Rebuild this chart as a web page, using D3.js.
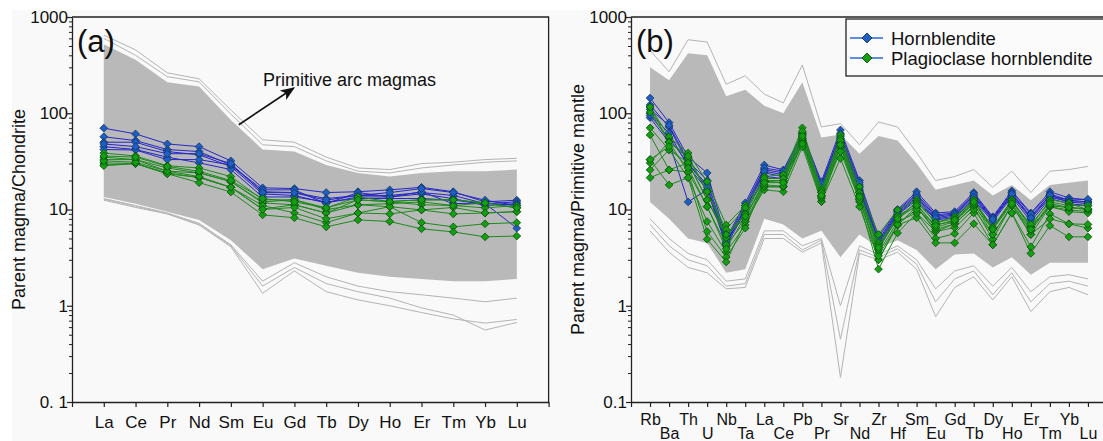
<!DOCTYPE html>
<html><head><meta charset="utf-8">
<script src="https://cdn.jsdelivr.net/npm/d3@7"></script>
<style>
html,body{margin:0;padding:0;background:#fff;}
svg text{font-family:Arial,"Liberation Sans",sans-serif;fill:#111;}
</style></head>
<body><svg id="c" width="1103" height="441"></svg>
<script>
// ---------- categories ----------
const reeCats = ["La","Ce","Pr","Nd","Sm","Eu","Gd","Tb","Dy","Ho","Er","Tm","Yb","Lu"];
const spiderCats = ["Rb","Ba","Th","U","Nb","Ta","La","Ce","Pb","Pr","Sr","Nd","Zr","Hf","Sm","Eu","Gd","Tb","Dy","Ho","Er","Tm","Yb","Lu"];
const yTicks = [0.1, 1, 10, 100, 1000];
const yTickLabelsA = ["0. 1","1","10","100","1000"];
const yTickLabelsB = ["0.1","1","10","100","1000"];
const seriesNames = ["Hornblendite","Plagioclase hornblendite"];

// ---------- primitive arc magmas (grey field), panel a ----------
const arcHiA   = [650,455,263,228,108,53,50,35,27,26,30,31,33,34];
const arcHi2A  = [600,400,240,212,98,47,45,32,25,24,27,29,31,32];
const coreHiA  = [520,360,210,190,85,42,40,29,24,22,24,25,25,26];
const coreLoA  = [13.5,11.5,9.5,7.8,4.8,2.4,3.1,2.6,2.2,2.0,1.9,1.8,1.8,1.9];
const arcMidLoA= [13,11,9.2,7.2,4.3,1.8,2.8,2.0,1.6,1.4,1.3,1.2,1.1,1.2];
const arcLo2A  = [12.8,10.8,9,7,4.2,1.6,2.5,1.7,1.4,1.2,0.95,0.8,0.56,0.67];
const arcLoA   = [12.5,10.5,9,6.9,4.1,1.35,2.3,1.4,1.15,1.0,0.85,0.73,0.66,0.72];

// ---------- hornblendite (panel a, chondrite normalised) ----------
const hbA1 = [70,61,48,45,32,16.8,16.5,15,15.3,16,17,15.3,12,12.5];
const hbA2 = [57,52,42,40,29,15.3,15,13,14,14,15,14,11.5,12];
const hbA3 = [50,50,40,37,28,14.5,14,11.7,13.5,13.5,14.5,13,11,11.5];
const hbA4 = [45,42,35,30.5,26,13.5,13.5,12,13,13,13,12.5,11.5,6.4];
const hbA5 = [42,41.5,33,33,29,16,16,11.5,15,13.5,15.3,11.5,11.7,11];
const hbA6 = [48,45,38,38,30,15,14.9,12.5,14,15,16.5,15,12.5,11];
// ---------- plagioclase hornblendite (panel a) ----------
const phA1 = [38.6,36,28.5,27,22,12.6,12.6,10.4,13.5,12.1,12.6,12.6,11.7,10.4];
const phA2 = [35,33,27,24,19.5,11.7,11.2,9.2,12.6,12,11.2,11,10.4,11];
const phA3 = [33,33,25,24,19.5,12,12.6,10,11.2,10.7,9.9,10.5,9.2,9.5];
const phA4 = [30.5,30,24,21.5,17,10.1,11.2,9.2,11.2,11.5,12,11,11.7,10.4];
const phA5 = [29,30,23.5,21.5,17,11,9.2,7.3,9.2,10.7,7.3,6.6,7.1,7.3];
const phA6 = [28.5,30,23.5,19,15.2,8.8,8.2,6.6,7.8,7.5,6.3,5.85,5.2,5.3];
const phA7 = [32,31,25,22,17,10,10.5,8,9.2,9,9.9,9,9.2,9.5];
const phA8 = [36,35,28,25,20,13,12,10.4,12.6,12.1,12.6,12.6,11.7,10.4];

// ---------- primitive arc magmas (grey field), panel b ----------
const arcHiB   = [450,270,580,550,200,245,158,128,317,72,78,47,81,72,39,20,22,26,17,25,15,25,26,28];
const coreHiB  = [300,220,420,400,150,175,120,100,210,56,60,38,58,52,30,16,18,20,14,18,12.5,18,19,20];
const coreLoB  = [12,8,5,4.5,2.2,2.4,8,7,5,6,3.2,5.5,4,4.8,3.8,2.4,3.4,3.5,2.5,3.2,2.1,2.8,2.8,2.8];
const arcLo3B  = [8,5,3.5,3,1.8,1.9,6,6,4.2,5,1.0,4.2,3.4,4.2,3.0,1.5,2.3,2.6,1.6,2.5,1.4,2.0,2.1,1.9];
const arcLo2B  = [7,4.2,3,2.6,1.6,1.7,5.5,5.5,3.8,4.8,0.45,3.8,3.2,3.9,2.7,1.1,1.9,2.3,1.3,2.2,1.1,1.7,1.8,1.6];
const arcLoB   = [6,3.6,2.5,2.2,1.5,1.55,5,5,3.6,4.5,0.18,3.5,3.0,3.6,2.4,0.77,1.55,2.0,1.15,2.0,0.87,1.4,1.55,1.3];

// ---------- hornblendite (panel b, primitive-mantle normalised) ----------
const hbB1 = [144,80,35,24,5.0,11.7,29,25.8,62,19.5,67,20,5.2,10,15.3,9.2,9.5,15,8.4,15.6,9.2,15.3,13.2,12.6];
const hbB2 = [122,72,30,18,4.6,10.4,26,24,55,18,60,18,4.6,9.5,14,8.5,9,14,8,14.5,8.5,14,12.5,12];
const hbB3 = [100,62,28,16,4.4,10,24,22,50,16.5,55,16,4.3,9,13,8,8.5,13,7.8,14,8,13.5,12,12];
const hbB4 = [90,50,12,16,4.2,9.5,22,21,47,16,50,15,4.0,8.8,12.5,7.8,8.2,12.5,7.5,13.5,7.5,13,11.5,11];
const hbB5 = [110,75,32,20,4.8,11,27,25,58,18.5,62,19,4.8,9.8,14.5,8.8,9.2,14.5,8.2,15,9,14.5,12.5,12.8];
const hbB6 = [95,55,30,17,4.5,10,25,23,52,17,57,17,4.4,9.2,13.5,8.2,8.8,13.5,7.9,14.5,8.2,14,12,11.5];
// ---------- plagioclase hornblendite (panel b) ----------
const phB1 = [116,57,38.6,19.5,6.9,11,22,23,70.5,16,59.5,17.2,5.5,9.9,12.6,7.3,8.4,12.6,6.2,12.6,6.6,12.6,11.7,9.9];
const phB2 = [103,50.5,34,15.3,6.2,10.4,19.5,20,62.5,13.5,49.3,14.9,4.5,8.5,10.7,5.9,7.1,10.7,4.9,11.2,5.5,10.7,9.9,9.5];
const phB3 = [70.5,41.7,30.5,12.6,5.1,9,17.2,17.2,52.7,12.1,45,12.6,3.55,7.5,9.2,5.0,5.6,9.2,4.3,9.2,4.1,9.0,7.1,6.4];
const phB4 = [59.5,25.8,24.6,10.7,4.3,7.5,16,15.3,44.8,12.1,34,10.7,3.0,6.9,8.2,4.5,4.5,7.1,4.3,9.2,3.5,6.8,5.2,5.2];
const phB5 = [33,18,21.4,7.5,3.6,6.9,17.2,17.2,50,13,45,12,2.4,5.7,9.2,5.9,6.5,10,5.5,11,5.5,8,7.1,7];
const phB6 = [30.5,50.5,24.6,5.9,3.2,6.4,19.5,19,55,14,48,13,3.0,6.9,10.7,6.2,7.1,11,6.2,12,6.6,10.7,9.5,9.2];
const phB7 = [25.8,41.7,21.4,4.9,2.85,7.5,18,17.5,48,13.5,40,12.6,3.3,7,10,7,7.5,12,6.5,12.6,6.5,11,10.5,10];
const phB8 = [21.4,25.8,30.5,12.6,5.5,8,20,20,60,15,55,15,4.2,8,12,7.3,8,12.6,6.5,12,7,12,11,11];
const phB9 = [116,50,36,15.3,5.5,9,21,21,65,15,52,14,3.8,8.5,11.5,6.5,7.5,11.5,5.5,11,6,11,10.5,10];
const phB10= [33,45,27,10.7,3.9,8.5,19,19,58,14,47,13.5,4.0,8,11,6.8,7.8,12,6.2,11.5,6.2,11.5,10.5,10.2];

// ---------- drawing ----------
const svg = d3.select("#c");
svg.append("rect").attr("x",12).attr("y",10).attr("width",1091).attr("height",431).attr("fill","#f9f9f9");

const COL = {
  grey:"#b4b4b4", greyFill:"#b9b9b9",
  blueLine:"#2626c8", blueFill:"#1f5fc4", blueEdge:"#0d2b5a",
  greenLine:"#1d8a1d", greenFill:"#12a012", greenEdge:"#0a430a"
};

function panel(opt){
  const {x0, x1, nCats, cats, twoRows, ylabels, ytitle, titleX, grey, core, hb, ph, tag} = opt;
  const y = d3.scaleLog().domain([0.1,1000]).range([402,17]);
  const x = d3.scaleLinear().domain([0,nCats+1]).range([x0,x1]);
  const g = svg.append("g");

  // grey field
  const area = d3.area().x((d,i)=>x(i+1)).y0(d=>y(d[0])).y1(d=>y(d[1]));
  g.append("path").datum(d3.zip(core[0],core[1])).attr("d",area).attr("fill",COL.greyFill);
  const line = d3.line().x((d,i)=>x(i+1)).y(d=>y(d));
  grey.forEach(s=>g.append("path").attr("d",line(s)).attr("fill","none").attr("stroke",COL.grey).attr("stroke-width",1));

  // samples
  const sym = d3.symbol().type(d3.symbolSquare).size(30);
  function drawSet(set, lc, fc, ec){
    set.forEach(s=>g.append("path").attr("d",line(s)).attr("fill","none").attr("stroke",lc).attr("stroke-width",1));
    set.forEach(s=>{
      g.selectAll(null).data(s).enter().append("path")
        .attr("d",sym)
        .attr("transform",(d,i)=>`translate(${x(i+1)},${y(d)}) rotate(45)`)
        .attr("fill",fc).attr("stroke",ec).attr("stroke-width",0.7);
    });
  }
  drawSet(hb, COL.blueLine, COL.blueFill, COL.blueEdge);
  drawSet(ph, COL.greenLine, COL.greenFill, COL.greenEdge);

  // frame (top & right)
  g.append("path").attr("d",`M${x0},${y(1000)}H${x1}V${y(0.1)}`).attr("fill","none").attr("stroke","#222").attr("stroke-width",1.3);

  // x axis
  const xa = d3.axisBottom(x).tickValues(d3.range(0,nCats+2)).tickSize(5).tickSizeOuter(0)
    .tickFormat(i=> (i>=1 && i<=nCats) ? cats[i-1] : "");
  const gx = g.append("g").attr("transform",`translate(0,${y(0.1)})`).call(xa);
  gx.select(".domain").attr("stroke","#222").attr("stroke-width",1.3);
  gx.selectAll(".tick line").attr("stroke","#222").attr("stroke-width",1.2);
  gx.selectAll(".tick text").attr("font-size", twoRows ? 16 : 17).attr("fill","#111")
    .attr("y", i => twoRows ? ((i%2===1) ? 12 : 26) : 14);

  // y axis
  const ya = d3.axisLeft(y).tickValues(yTicks).tickSize(5).tickSizeOuter(0)
    .tickFormat((d,i)=>ylabels[i]);
  const gy = g.append("g").attr("transform",`translate(${x0},0)`).call(ya);
  gy.select(".domain").attr("stroke","#222").attr("stroke-width",1.3);
  gy.selectAll(".tick line").attr("stroke","#222").attr("stroke-width",1.2);
  gy.selectAll(".tick text").attr("font-size",17).attr("fill","#111").attr("x",-4);
  const minors = [];
  [0.1,1,10,100].forEach(b=>{ for(let k=2;k<=9;k++) minors.push(b*k); });
  const gm = g.append("g").attr("transform",`translate(${x0},0)`)
    .call(d3.axisLeft(y).tickValues(minors).tickSize(3).tickFormat(""));
  gm.select(".domain").remove();
  gm.selectAll(".tick line").attr("stroke","#222").attr("stroke-width",1);

  // y title
  g.append("text").attr("transform",`translate(${titleX},${(y(1000)+y(0.1))/2}) rotate(-90)`)
    .attr("text-anchor","middle").attr("font-size",18).text(ytitle);
  // panel tag
  g.append("text").attr("x",x0+5).attr("y",y(1000)+35).attr("font-size",31).text(tag);
  return {x,y,g};
}

const A = panel({x0:72, x1:548.6, nCats:reeCats.length, cats:reeCats, twoRows:false,
  ylabels:yTickLabelsA, ytitle:"Parent magma/Chondrite", titleX:25,
  grey:[arcHiA,arcHi2A,arcMidLoA,arcLo2A,arcLoA],
  core:[coreLoA,coreHiA],
  hb:[hbA1,hbA2,hbA3,hbA4,hbA5,hbA6],
  ph:[phA1,phA2,phA3,phA4,phA5,phA6,phA7,phA8], tag:"(a)"});

const B = panel({x0:631, x1:631+25*19.04, nCats:spiderCats.length, cats:spiderCats, twoRows:true,
  ylabels:yTickLabelsB, ytitle:"Parent magma/Primitive mantle", titleX:584,
  grey:[arcHiB,arcLo3B,arcLo2B,arcLoB],
  core:[coreLoB,coreHiB],
  hb:[hbB1,hbB2,hbB3,hbB4,hbB5,hbB6],
  ph:[phB1,phB2,phB3,phB4,phB5,phB6,phB7,phB8,phB9,phB10], tag:"(b)"});

// annotation arrow in panel a
const defs = svg.append("defs");
defs.append("marker").attr("id","ah").attr("viewBox","0 0 10 10").attr("refX",9).attr("refY",5)
  .attr("markerWidth",9).attr("markerHeight",9).attr("orient","auto")
  .append("path").attr("d","M0,1L10,5L0,9L2.5,5Z").attr("fill","#111");
svg.append("line").attr("x1",A.x(5.25)).attr("y1",A.y(76)).attr("x2",A.x(6.98)).attr("y2",A.y(183))
  .attr("stroke","#111").attr("stroke-width",1.6).attr("marker-end","url(#ah)");
svg.append("text").attr("x",A.x(6.01)).attr("y",A.y(190)).attr("font-size",18).text("Primitive arc magmas");

// legend in panel b
const lg = svg.append("g");
lg.append("rect").attr("x",846).attr("y",19).attr("width",262).attr("height",57)
  .attr("fill","#fbfbfb").attr("stroke","#222").attr("stroke-width",1.3);
const legFill = [COL.blueFill, COL.greenFill];
const legEdge = [COL.blueEdge, COL.greenEdge];
seriesNames.forEach((n,i)=>{
  const yy = 38 + i*20;
  lg.append("line").attr("x1",850).attr("x2",883).attr("y1",yy).attr("y2",yy).attr("stroke","#2a6ad0").attr("stroke-width",1.3);
  lg.append("path").attr("d",d3.symbol().type(d3.symbolSquare).size(50)())
    .attr("transform",`translate(867,${yy}) rotate(45)`).attr("fill",legFill[i]).attr("stroke",legEdge[i]).attr("stroke-width",0.8);
  lg.append("text").attr("x",891).attr("y",yy+6.5).attr("font-size",18.5).text(n);
});
</script></body></html>
